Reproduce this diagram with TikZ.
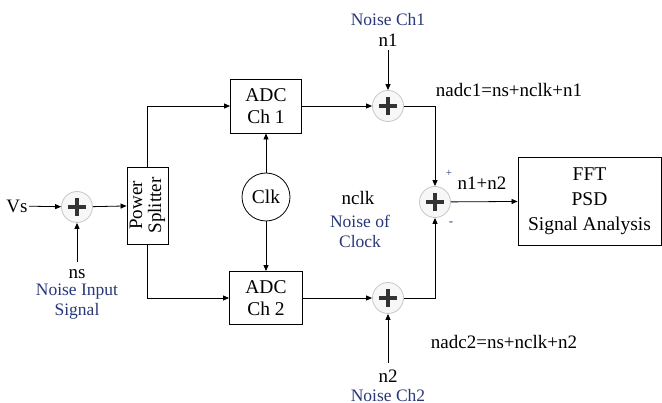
\documentclass[tikz,border=0pt]{standalone}
\usepackage{fontspec}
\setmainfont{Liberation Serif}
\usetikzlibrary{arrows.meta}
\definecolor{nblue}{RGB}{40,55,120}
\begin{document}
\begin{tikzpicture}[x=1pt,y=-1pt, line width=0.8pt,
  >={Triangle[length=6pt,width=5pt]},
  sumnode/.style={circle, draw=black!22, fill=black!3, minimum size=31pt, inner sep=0pt, line width=0.8pt,
    path picture={\draw[line width=3.4pt, black!80]
      ([xshift=-9pt]path picture bounding box.center) -- ([xshift=9pt]path picture bounding box.center)
      ([yshift=-9pt]path picture bounding box.center) -- ([yshift=9pt]path picture bounding box.center);}},
  blk/.style={draw, line width=0.9pt, align=center, inner sep=0pt, font=\fontsize{19.5}{22}\selectfont},
  lbl/.style={font=\fontsize{19}{21}\selectfont, align=center, inner sep=1pt},
  bl/.style={font=\fontsize{17.5}{20}\selectfont, text=nblue, align=center, inner sep=1pt}
]
\useasboundingbox (0,0) rectangle (662,403);
% left part
\node[lbl] (vs) at (17,206) {Vs};
\node[sumnode] (s1) at (77,207) {};
\coordinate (nsin) at (77,262);
\node[lbl] (ns) at (77,274) {ns};
\node[bl] (nsl1) at (77,292) {Noise Input};
\node[bl] (nsl2) at (77,311) {Signal};
\node[blk, minimum width=41pt, minimum height=77pt] (ps) at (147.5,205.5) {};
\node[rotate=90, align=center, font=\fontsize{19}{19}\selectfont] (pst) at (ps.center) {Power\\Splitter};
% ADCs and clock
\node[blk, minimum width=71pt, minimum height=54pt] (adc1) at (266,106) {ADC\\Ch 1};
\node[blk, minimum width=73pt, minimum height=53pt] (adc2) at (266,298) {ADC\\Ch 2};
\node[circle, draw, line width=0.8pt, minimum size=48pt, inner sep=0pt, font=\fontsize{19.5}{22}\selectfont] (clk) at (266,197) {Clk};
\node[lbl] (nclk) at (358,198) {nclk};
\node[bl] (nclk1) at (360,221) {Noise of};
\node[bl] (nclk2) at (360,242) {Clock};
% sums
\node[sumnode] (s2) at (388,106) {};
\node[sumnode] (s3) at (388,298) {};
\node[sumnode] (s4) at (435,202) {};
\node[bl] (nc1) at (388,20) {Noise Ch1};
\node[lbl] (n1) at (388,40) {n1};
\coordinate (n1in) at (388,50);
\node[lbl] (n2) at (388,376) {n2};
\node[bl] (nc2) at (388,396) {Noise Ch2};
\coordinate (n2in) at (388,363);
\node[lbl] (nadc1) at (509,90) {nadc1=ns+nclk+n1};
\node[lbl] (nadc2) at (504,342) {nadc2=ns+nclk+n2};
\node[font=\fontsize{11}{12}\selectfont, text=nblue, inner sep=0pt] (plus) at (449,173) {+};
\node[font=\fontsize{13}{12}\selectfont, text=nblue, inner sep=0pt] (minus) at (451,224) {-};
\node[lbl] (n12) at (482,183) {n1+n2};
\node[blk, minimum width=143pt, minimum height=88pt, font=\fontsize{19.5}{25}\selectfont] (fft) at (589.5,201) {FFT\\PSD\\Signal Analysis};
% connectors
\draw[->] (vs) -- (s1);
\draw[->] (nsin) -- (s1);
\draw[->] (s1) -- (ps);
\draw[->] (ps.north) |- (adc1.west);
\draw[->] (ps.south) |- (adc2.west);
\draw[->] (clk) -- (adc1);
\draw[->] (clk) -- (adc2);
\draw[->] (adc1) -- (s2);
\draw[->] (adc2) -- (s3);
\draw[->] (n1in) -- (s2);
\draw[->] (n2in) -- (s3);
\draw[->] (s2) -| (s4);
\draw[->] (s3) -| (s4);
\draw[->] (s4) -- (fft);
\end{tikzpicture}
\end{document}
